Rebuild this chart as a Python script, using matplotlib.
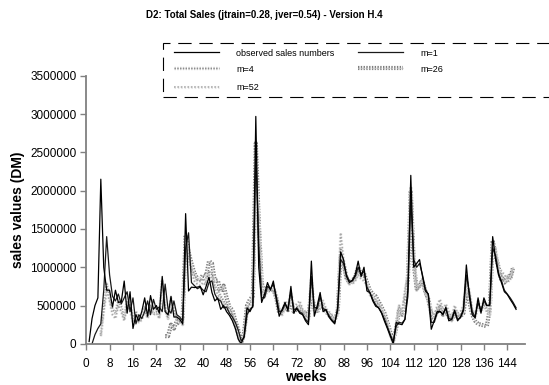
import numpy as np
import matplotlib
matplotlib.use("Agg")
import matplotlib.pyplot as plt
from matplotlib.lines import Line2D
from matplotlib.patches import Rectangle
import matplotlib.patheffects as pe

plt.rcParams['font.family'] = ['Liberation Sans', 'DejaVu Sans']

# sales values in thousand DM, one value per week
observed_start = 1
observed = [30, 330, 500, 600, 2150, 1000, 700, 700, 480, 700, 540, 550, 820, 400, 680, 200, 380, 300,
            420, 600, 360, 630, 450, 500, 400, 880, 420, 380, 620, 350, 350, 320, 260, 1700, 690, 740,
            735, 740, 750, 640, 750, 870, 670, 560, 600, 450, 500, 420, 370, 300, 200, 60, 0, 100,
            470, 420, 500, 2970, 1000, 540, 650, 800, 700, 820, 580, 360, 450, 540, 430, 750, 400, 470,
            400, 380, 300, 250, 1080, 360, 500, 670, 420, 450, 350, 300, 260, 480, 1200, 1100, 880, 800,
            830, 900, 1080, 880, 1000, 690, 670, 560, 490, 470, 400, 295, 200, 100, 0, 280, 260, 250,
            320, 700, 2200, 1000, 1050, 1100, 880, 690, 650, 190, 300, 420, 425, 380, 480, 300, 320, 440,
            300, 350, 450, 1030, 620, 380, 340, 600, 400, 600, 500, 510, 1400, 1100, 900, 800, 680, 645,
            580, 520, 450]

m1_start = 2
m1 = [0, 120, 200, 260, 700, 1400, 900, 620, 560, 650, 520, 600, 680, 420, 600, 260, 380, 330, 420,
      560, 380, 580, 450, 480, 420, 780, 450, 400, 560, 380, 350, 300, 1250, 1450, 800, 760, 720, 740,
      700, 680, 800, 820, 650, 580, 560, 470, 480, 400, 350, 280, 180, 40, 80, 380, 450, 480, 2500,
      1300, 600, 600, 750, 720, 780, 620, 420, 430, 520, 460, 680, 450, 450, 420, 390, 320, 280, 880,
      480, 460, 620, 460, 440, 370, 310, 280, 430, 1100, 1050, 900, 820, 820, 880, 1000, 900, 950, 740,
      670, 580, 510, 470, 410, 320, 220, 120, 30, 230, 280, 270, 320, 620, 1900, 1100, 1000, 1050, 900,
      720, 640, 280, 280, 400, 420, 390, 460, 330, 320, 420, 320, 340, 430, 900, 680, 420, 350, 540,
      430, 560, 500, 500, 1250, 1150, 920, 820, 700, 650, 600, 540, 470]

m4_start = 5
m4 = [120, 500, 780, 600, 450, 400, 560, 480, 340, 560, 500, 330, 420, 300, 330, 480, 350, 500, 400,
      420, 350, 820, 450, 330, 560, 420, 330, 300, 250, 1380, 1150, 980, 900, 830, 820, 850, 800, 950,
      900, 750, 700, 620, 560, 500, 450, 380, 250, 120, 20, 120, 450, 520, 580, 2400, 1500, 700, 620,
      700, 680, 700, 600, 420, 380, 500, 460, 620, 430, 480, 500, 420, 380, 300, 850, 420, 400, 580,
      520, 430, 380, 350, 300, 400, 1250, 1000, 850, 780, 800, 850, 950, 880, 870, 780, 650, 600, 560,
      500, 440, 360, 250, 120, 20, 200, 480, 350, 600, 900, 2050, 1100, 700, 750, 800, 650, 560, 350,
      300, 420, 500, 400, 450, 380, 300, 450, 350, 380, 450, 800, 650, 400, 350, 500, 420, 520, 420,
      380, 1300, 1200, 950, 900, 850, 800, 850, 950]

m26_start = 27
m26 = [100, 100, 250, 200, 300, 260, 350, 1420, 1200, 1050, 920, 850, 850, 900, 880, 1080, 1050, 820,
       830, 680, 760, 600, 480, 440, 300, 180, 0, 150, 500, 580, 620, 2620, 1600, 800, 650, 750, 700,
       720, 600, 400, 420, 480, 440, 550, 420, 450, 480, 420, 400, 350, 700, 450, 420, 500, 480, 420,
       380, 350, 320, 420, 1150, 1050, 860, 800, 820, 880, 1000, 900, 920, 800, 700, 650, 620, 550,
       480, 400, 280, 150, 50, 200, 450, 380, 550, 850, 2000, 1050, 720, 760, 820, 680, 580, 400, 350,
       430, 480, 380, 420, 350, 320, 400, 350, 360, 400, 700, 550, 380, 300, 260, 250, 240, 230, 450,
       1350, 1150, 1000, 820, 800, 900, 850, 1000]

m52_start = 5
m52 = [100, 420, 700, 560, 380, 330, 500, 420, 300, 500, 440, 280, 380, 280, 310, 430, 330, 460, 380,
       400, 330, 780, 480, 340, 600, 450, 340, 320, 280, 1300, 1100, 950, 820, 780, 760, 800, 760, 900,
       850, 700, 650, 560, 520, 460, 400, 330, 220, 80, 0, 100, 380, 450, 520, 2050, 1700, 800, 650,
       700, 720, 760, 660, 450, 400, 560, 500, 680, 480, 520, 560, 450, 420, 320, 820, 450, 420, 600,
       560, 460, 420, 380, 320, 450, 1450, 1100, 900, 820, 780, 820, 900, 850, 820, 760, 640, 600, 580,
       520, 460, 380, 260, 100, 0, 250, 500, 420, 700, 900, 1950, 1200, 750, 800, 850, 700, 600, 450,
       350, 500, 580, 450, 520, 420, 350, 500, 400, 420, 500, 850, 700, 450, 380, 560, 460, 560, 460,
       400, 1300, 1250, 1000, 950, 900, 850, 900, 1000]

x_ticks = list(range(0, 145, 8))
y_ticks = list(range(0, 3500001, 500000))

title = "D2: Total Sales (jtrain=0.28, jver=0.54) - Version H.4"

styles = {
    'observed sales numbers': dict(color='black', lw=0.9),
    'm=1': dict(color='#1a1a1a', lw=0.9),
    'm=4': dict(color='#8c8c8c', lw=1.0, dashes=(1, 1),
                path_effects=[pe.Stroke(linewidth=2.4, foreground='#d2d2d2'), pe.Normal()]),
    'm=26': dict(color='#c8c8c8', lw=1.0, dashes=(1, 1),
                 path_effects=[pe.Stroke(linewidth=3.0, foreground='#7c7c7c'), pe.Normal()]),
    'm=52': dict(color='#a8a8a8', lw=1.1, dashes=(1, 1.2),
                 path_effects=[pe.Stroke(linewidth=2.2, foreground='#e4e4e4'), pe.Normal()]),
}

series = [
    ('m=26', m26_start, m26),
    ('m=4', m4_start, m4),
    ('m=52', m52_start, m52),
    ('m=1', m1_start, m1),
    ('observed sales numbers', observed_start, observed),
]

fig = plt.figure(figsize=(5.49, 3.85), dpi=100)
ax = fig.add_axes([0.157, 0.107, 0.799, 0.696])

for name, start, vals in series:
    vals = np.array(vals) * 1000
    weeks = np.arange(start, start + len(vals))
    ax.plot(weeks, vals, **styles[name])

ax.set_xlim(0, 150)
ax.set_ylim(0, 3500000)
ax.set_xticks(x_ticks)
ax.set_yticks(y_ticks)
ax.set_yticklabels([str(v) for v in y_ticks])
for s in ['top', 'right']:
    ax.spines[s].set_visible(False)
for s in ['left', 'bottom']:
    ax.spines[s].set_color('#808080')
    ax.spines[s].set_linewidth(1.3)
ax.tick_params(axis='both', direction='out', length=4, width=1, color='#808080', labelsize=8.5)
ax.tick_params(axis='x', pad=6)
ax.tick_params(axis='y', pad=3)
ax.set_xlabel('weeks', fontsize=10, fontweight='bold', labelpad=0)
ax.set_ylabel('sales values (DM)', fontsize=10, fontweight='bold', labelpad=4)

fig.text(0.481, 0.962, title, ha='center', va='center', fontsize=7, fontweight='bold',
         family=['Liberation Sans Narrow', 'Liberation Sans', 'DejaVu Sans'])

# legend box, cut off at the right edge
fig.add_artist(Rectangle((163 / 549, 1 - 97 / 385), 420 / 549, 54 / 385, transform=fig.transFigure,
                         fill=False, edgecolor='black', lw=0.8, linestyle=(0, (12, 7)), clip_on=False))
legend_pos = [
    ('observed sales numbers', 174, 52),
    ('m=1', 358, 52),
    ('m=4', 174, 68),
    ('m=26', 358, 68),
    ('m=52', 174, 87),
]
for name, x0, y0 in legend_pos:
    st = dict(styles[name])
    fig.add_artist(Line2D([x0 / 549, (x0 + 45) / 549], [1 - y0 / 385, 1 - y0 / 385],
                          transform=fig.transFigure, **st))
    fig.text((x0 + 62) / 549, 1 - (y0 + 1) / 385, name, fontsize=6.5, va='center', ha='left')

fig.savefig('out.png', dpi=100)
